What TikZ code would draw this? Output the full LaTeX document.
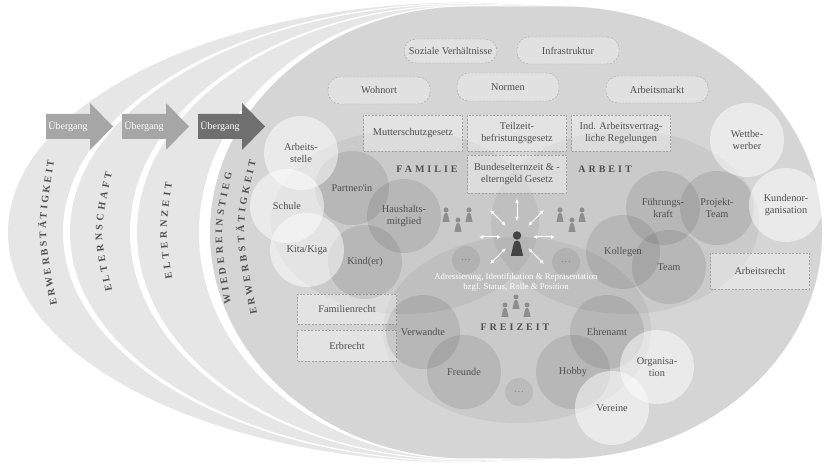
\documentclass[tikz,border=0pt]{standalone}
\usepackage{fontspec}
\setmainfont{Liberation Serif}
\newfontfamily\spacedfont[LetterSpace=30]{Liberation Serif}
\usepackage{xcolor}
\usepackage{tikz}
\usetikzlibrary{arrows.meta,calc,decorations.text}

\definecolor{bandgray}{HTML}{E6E6E6}
\definecolor{maingray}{HTML}{D5D5D5}
\definecolor{txtgray}{HTML}{4F4F4F}
\definecolor{boxline}{HTML}{A3A3A3}
\definecolor{arrowlight}{HTML}{A6A6A6}
\definecolor{arrowdark}{HTML}{6F6F6F}
\definecolor{pawngray}{HTML}{8E8E8E}
\definecolor{pawndark}{HTML}{444444}

\newcommand{\phasefont}{\fontsize{10}{10}\selectfont\bfseries}
\newcommand{\lifeband}[2]{(561,458.5) -- (468,232.5+#2) arc [start angle=90, end angle=270, x radius=#1, y radius=#2] -- (561,6.5) arc [start angle=-90, end angle=90, x radius=261, y radius=226] -- cycle}

\tikzset{
  lbl/.style={text=txtgray, font=\fontsize{10.3}{11.8}\selectfont, align=center, inner sep=1pt},
  darkcirc/.style={lbl, circle, minimum size=74pt, fill=black, fill opacity=.09, text opacity=1},
  lightcirc/.style={lbl, circle, minimum size=74pt, fill=white, fill opacity=.5, text opacity=1},
  dotcirc/.style={lbl, circle, minimum size=28pt, fill=black, fill opacity=.07, text opacity=1, text=gray},
  softbox/.style={lbl, draw=boxline, dash pattern=on 2pt off 1.5pt, rounded corners=12pt, fill=white, fill opacity=.3, text opacity=1, minimum width=102pt, minimum height=27pt},
  lawbox/.style={lbl, draw=boxline, dash pattern=on 2pt off 1.5pt, fill=white, fill opacity=.35, text opacity=1, minimum width=99pt, minimum height=36pt},
  lifesphere/.style={fill=black, fill opacity=.05},
  spheretitle/.style={text=txtgray, font=\spacedfont\bfseries\fontsize{10}{12}\selectfont},
  uebergang/.style={text=white, font=\fontsize{10}{12}\selectfont},
  egoarrow/.style={draw=white, line width=1pt, {Latex[length=4pt,width=4pt]}-{Latex[length=4pt,width=4pt]}},
  phaselabel/.style={decorate, decoration={text along path, text align={fit to path}, text color=txtgray, text={|\phasefont|#1}}},
  pawn/.pic={
    \fill (0,5) circle (2.5);
    \fill (-3.6,-7) -- (-2,0) arc (180:0:2) -- (3.6,-7) -- cycle;
  }
}

\begin{document}
\begin{tikzpicture}[x=1pt, y=1pt]
  \useasboundingbox (0,0) rectangle (824,465);

  \fill[bandgray] \lifeband{460}{230};
  \fill[white] \lifeband{405}{229.5};
  \fill[bandgray] \lifeband{398}{228.5};
  \fill[white] \lifeband{338}{228};
  \fill[bandgray] \lifeband{331}{227};
  \fill[white] \lifeband{269}{227};
  \fill[maingray] \lifeband{258}{226};

  \fill[lifesphere] (405,243) ellipse [x radius=134, y radius=92];
  \fill[lifesphere] (625,243) ellipse [x radius=134, y radius=92];
  \fill[lifesphere] (517,135) ellipse [x radius=134, y radius=93];

  \fill[arrowlight] (46,326) -- ++(44,0) -- ++(0,-11) -- ++(23,23.5) -- ++(-23,23.5) -- ++(0,-11) -- ++(-44,0) -- cycle;
  \fill[arrowlight] (122,326) -- ++(44,0) -- ++(0,-11) -- ++(23,23.5) -- ++(-23,23.5) -- ++(0,-11) -- ++(-44,0) -- cycle;
  \fill[arrowdark] (198,326) -- ++(44,0) -- ++(0,-11) -- ++(23,23.5) -- ++(-23,23.5) -- ++(0,-11) -- ++(-44,0) -- cycle;
  \node[uebergang] (ueb1) at (68,338.5) {Übergang};
  \node[uebergang] (ueb2) at (144,338.5) {Übergang};
  \node[uebergang] (ueb3) at (220,338.5) {Übergang};

  \path[phaselabel=ERWERBSTÄTIGKEIT] (57,160) .. controls (43,232) .. (54,304);
  \path[phaselabel=ELTERNSCHAFT] (112,174) .. controls (99,232) .. (112,292);
  \path[phaselabel=ELTERNZEIT] (172,186) .. controls (165,233) .. (172,282);
  \path[phaselabel=WIEDEREINSTIEG] (231,161) .. controls (219,232) .. (232,292);
  \path[phaselabel=ERWERBSTÄTIGKEIT] (257,151) .. controls (240,237) .. (256,304);

  \node[softbox, minimum width=93pt, minimum height=24pt] (social) at (450.5,414) {Soziale Verhältnisse};
  \node[softbox] (infra) at (568,414.5) {Infrastruktur};
  \node[softbox] (home) at (379,374.5) {Wohnort};
  \node[softbox, minimum height=28pt] (norms) at (508,378) {Normen};
  \node[softbox] (market) at (657,375.5) {Arbeitsmarkt};

  \node[lawbox] (mutter) at (413,332) {Mutterschutzgesetz};
  \node[lawbox] (teilzeit) at (517,332) {Teilzeit-\\befristungsgesetz};
  \node[lawbox] (vertrag) at (621,332) {Ind. Arbeitsvertrag-\\liche Regelungen};
  \node[lawbox, minimum height=38pt] (beeg) at (517,291) {Bundeselternzeit \& -\\elterngeld Gesetz};
  \node[lawbox, minimum height=30pt] (famrecht) at (347,156) {Familienrecht};
  \node[lawbox, minimum height=31pt] (erbrecht) at (347,119.5) {Erbrecht};
  \node[lawbox] (arbrecht) at (760,194) {Arbeitsrecht};

  \node[spheretitle] (familie) at (427,296) {FAMILIE};
  \node[spheretitle] (arbeit) at (605,296) {ARBEIT};
  \node[spheretitle] (freizeit) at (515,138) {FREIZEIT};

  \node[darkcirc] (partner) at (352,277) {Partner/in};
  \node[darkcirc] (household) at (404,249) {Haushalts-\\mitglied};
  \node[darkcirc] (kids) at (365,203) {Kind(er)};
  \node[darkcirc] (lead) at (663,257) {Führungs-\\kraft};
  \node[darkcirc] (project) at (717,257) {Projekt-\\Team};
  \node[darkcirc] (colleagues) at (623,213) {Kollegen};
  \node[darkcirc] (team) at (669,198) {Team};
  \node[darkcirc] (relatives) at (423,133) {Verwandte};
  \node[darkcirc] (friends) at (464,93) {Freunde};
  \node[darkcirc] (honorary) at (607,133) {Ehrenamt};
  \node[darkcirc] (hobby) at (573,93) {Hobby};
  \node[dotcirc] (dotsl) at (466,205) {\dots};
  \node[dotcirc] (dotsr) at (566,203) {\dots};
  \node[dotcirc] (dotsb) at (519,73) {\dots};

  \node[lightcirc] (workplace) at (301,312) {Arbeits-\\stelle};
  \node[lightcirc] (school) at (287,259) {Schule};
  \node[lightcirc] (kita) at (307,215) {Kita/Kiga};
  \node[lightcirc] (rivals) at (747,325) {Wettbe-\\werber};
  \node[lightcirc] (customer) at (786,260) {Kundenor-\\ganisation};
  \node[lightcirc] (organisation) at (657,98) {Organisa-\\tion};
  \node[lightcirc] (clubs) at (612,57) {Vereine};

  \pic[color=pawngray] at (446,250) {pawn};
  \pic[color=pawngray] at (458,240) {pawn};
  \pic[color=pawngray] at (469,250) {pawn};
  \pic[color=pawngray] at (560,250) {pawn};
  \pic[color=pawngray] at (572,240) {pawn};
  \pic[color=pawngray] at (582,250) {pawn};
  \pic[color=pawngray] at (505,155) {pawn};
  \pic[color=pawngray] at (516,163) {pawn};
  \pic[color=pawngray] at (527,155) {pawn};
  \pic[color=pawndark, scale=1.7] at (517,221) {pawn};

  \coordinate (ego) at (517,228);
  \foreach \a in {90,45,0,-45,-135,180,135}
    \draw[egoarrow] ($(ego)+(\a:16)$) -- ($(ego)+(\a:38)$);

  \node[text=white, font=\fontsize{8.8}{10}\selectfont, align=center] (address) at (516,183) {Adressierung, Identifikation \& Repräsentation\\bzgl. Status, Rolle \& Position};
\end{tikzpicture}
\end{document}
